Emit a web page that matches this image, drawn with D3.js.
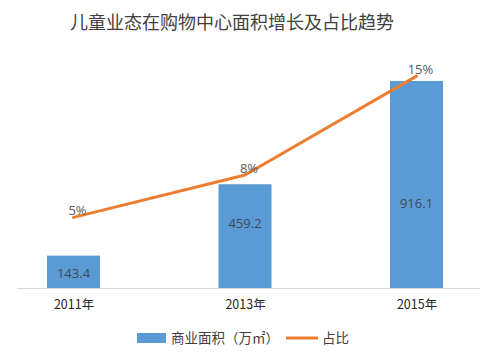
<!DOCTYPE html>
<html>
<head>
<meta charset="utf-8">
<script src="https://cdn.jsdelivr.net/npm/d3@7"></script>
<style>
body{margin:0;background:#fff;}
svg{display:block;font-family:"Noto Sans CJK SC","Microsoft YaHei",sans-serif;}
</style>
</head>
<body>
<svg id="c" width="500" height="357"></svg>
<script>
const categories = ["2011年", "2013年", "2015年"];
const areaValues = [143.4, 459.2, 916.1];
const shareValues = [0.05, 0.08, 0.15];
const shareLabels = ["5%", "8%", "15%"];
const areaLabels = ["143.4", "459.2", "916.1"];
const title = "儿童业态在购物中心面积增长及占比趋势";
const legendBar = "商业面积（万㎡）";
const legendLine = "占比";

(function () {
const svg = d3.select("#c");
const plotTop = 62, plotBottom = 288;
const x = d3.scalePoint().domain(categories).range([73.5, 416.5]);
const y = d3.scaleLinear().domain([0, 1000]).range([plotBottom, plotTop]);
const y2 = d3.scaleLinear().domain([0, 0.16]).range([plotBottom, plotTop]);
const barW = 53;

svg.append("text").attr("x", 232).attr("y", 29).attr("text-anchor", "middle")
  .attr("font-size", 18).attr("fill", "#404040").text(title);

svg.append("g").selectAll("rect").data(areaValues).join("rect")
  .attr("x", (d, i) => x(categories[i]) - barW / 2)
  .attr("width", barW)
  .attr("y", d => y(d))
  .attr("height", d => y(0) - y(d))
  .attr("fill", "#5B9BD5");

svg.append("line").attr("x1", 17).attr("x2", 480).attr("y1", y(0) + 0.5).attr("y2", y(0) + 0.5)
  .attr("stroke", "#D9D9D9").attr("stroke-width", 1);

const xAxis = svg.append("g").attr("transform", `translate(0,${y(0)})`)
  .call(d3.axisBottom(x).tickSize(0).tickPadding(12));
xAxis.select(".domain").remove();
xAxis.selectAll("text").attr("font-size", 12.5).attr("fill", "#262626")
  .attr("font-family", "'Noto Sans CJK SC', sans-serif").attr("font-weight", 400);

const labelFrac = [0.45, 0.625, 0.41];
svg.append("g").selectAll("text").data(areaValues).join("text")
  .attr("x", (d, i) => x(categories[i]))
  .attr("y", (d, i) => y(d * labelFrac[i]) + 5)
  .attr("text-anchor", "middle").attr("font-size", 13)
  .attr("font-family", "'Open Sans', sans-serif")
  .attr("fill", "#3b4a5a").text((d, i) => areaLabels[i]);

const line = d3.line().x((d, i) => x(categories[i])).y(d => y2(d));
svg.append("path").datum(shareValues).attr("d", line)
  .attr("fill", "none").attr("stroke", "#ED7D31").attr("stroke-width", 3)
  .attr("stroke-linejoin", "round").attr("stroke-linecap", "round");

svg.append("g").selectAll("text").data(shareValues).join("text")
  .attr("x", (d, i) => x(categories[i]) + 4)
  .attr("y", d => y2(d) - 2)
  .attr("text-anchor", "middle").attr("font-size", 13)
  .attr("font-family", "'Open Sans', sans-serif")
  .attr("fill", "#595959").text((d, i) => shareLabels[i]);

const lg = svg.append("g");
lg.append("rect").attr("x", 137).attr("y", 333).attr("width", 29).attr("height", 10).attr("fill", "#5B9BD5");
lg.append("text").attr("x", 171).attr("y", 343).attr("font-size", 13.5).attr("fill", "#404040").text(legendBar);
lg.append("line").attr("x1", 286).attr("x2", 318).attr("y1", 338).attr("y2", 338)
  .attr("stroke", "#ED7D31").attr("stroke-width", 3);
lg.append("text").attr("x", 322).attr("y", 343).attr("font-size", 13.5).attr("fill", "#404040").text(legendLine);
})();
</script>
</body>
</html>
